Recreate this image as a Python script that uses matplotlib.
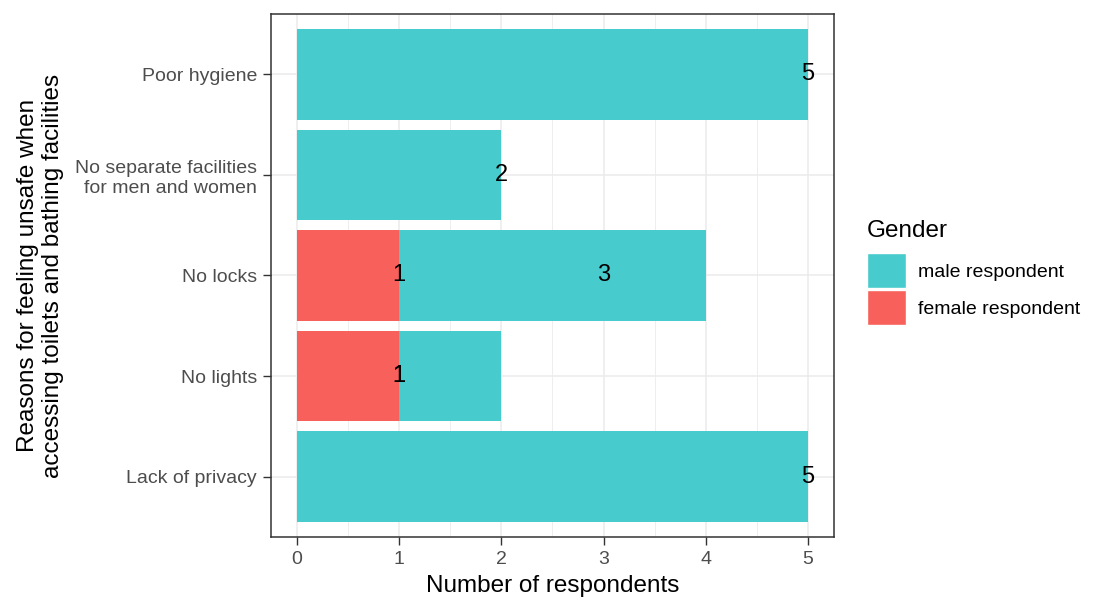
import matplotlib
matplotlib.use("Agg")
import matplotlib.pyplot as plt
from matplotlib.patches import Patch
from matplotlib.ticker import MultipleLocator
import numpy as np

plt.rcParams["font.family"] = ["Liberation Sans", "DejaVu Sans"]

# --- data (bottom to top) ---
categories = [
    "Lack of privacy",
    "No lights",
    "No locks",
    "No separate facilities\nfor men and women",
    "Poor hygiene",
]
female = [0, 1, 1, 0, 0]
male = [5, 1, 3, 2, 5]
x_ticks = [0, 1, 2, 3, 4, 5]

MALE_COLOR = "#48CBCD"
FEMALE_COLOR = "#F8605B"
GRID = "#EBEBEB"
DARK = "#333333"

fig = plt.figure(figsize=(10.99, 5.98), dpi=100)
ax = fig.add_axes([0.2466, 0.102, 0.512, 0.8746])

y = np.arange(len(categories))
ax.barh(y, female, height=0.9, color=FEMALE_COLOR, zorder=2)
ax.barh(y, male, left=female, height=0.9, color=MALE_COLOR, zorder=2)

# labels sit at the count value itself
for yi, f, m in zip(y, female, male):
    for v in (f, m):
        if v > 0:
            ax.text(v, yi, str(v), ha="center", va="center",
                    fontsize=17, color="black", zorder=3)

ax.set_xlim(-0.25, 5.25)
ax.set_ylim(-0.6, len(categories) - 0.4)
ax.set_xticks(x_ticks)
ax.xaxis.set_minor_locator(MultipleLocator(0.5))
ax.set_yticks(y)
ax.set_yticklabels(categories)

ax.grid(True, which="major", color=GRID, lw=1.1, zorder=0)
ax.grid(True, which="minor", axis="x", color=GRID, lw=0.6, zorder=0)
ax.set_axisbelow(True)
ax.tick_params(which="major", length=6, width=1, color=DARK,
               labelsize=14, labelcolor="#4D4D4D", pad=4)
ax.tick_params(which="minor", length=0)
for s in ax.spines.values():
    s.set_color(DARK)
    s.set_linewidth(1.1)

ax.set_xlabel("Number of respondents", fontsize=17.5, labelpad=5)
ax.set_ylabel("Reasons for feeling unsafe when\naccessing toilets and bathing facilities",
              fontsize=17.5, labelpad=8, linespacing=1.15)

handles = [Patch(facecolor=MALE_COLOR, edgecolor="white"),
           Patch(facecolor=FEMALE_COLOR, edgecolor="white")]
leg = fig.legend(handles, ["male respondent", "female respondent"],
                 title="Gender", loc="upper left",
                 bbox_to_anchor=(0.782, 0.645), frameon=False,
                 fontsize=14, title_fontsize=17.5,
                 handlelength=2.0, handleheight=2.39, handletextpad=0.6,
                 labelspacing=0.12, borderaxespad=0)
leg._legend_box.align = "left"
leg._legend_box.sep = 8

fig.savefig("out.png", dpi=100)
